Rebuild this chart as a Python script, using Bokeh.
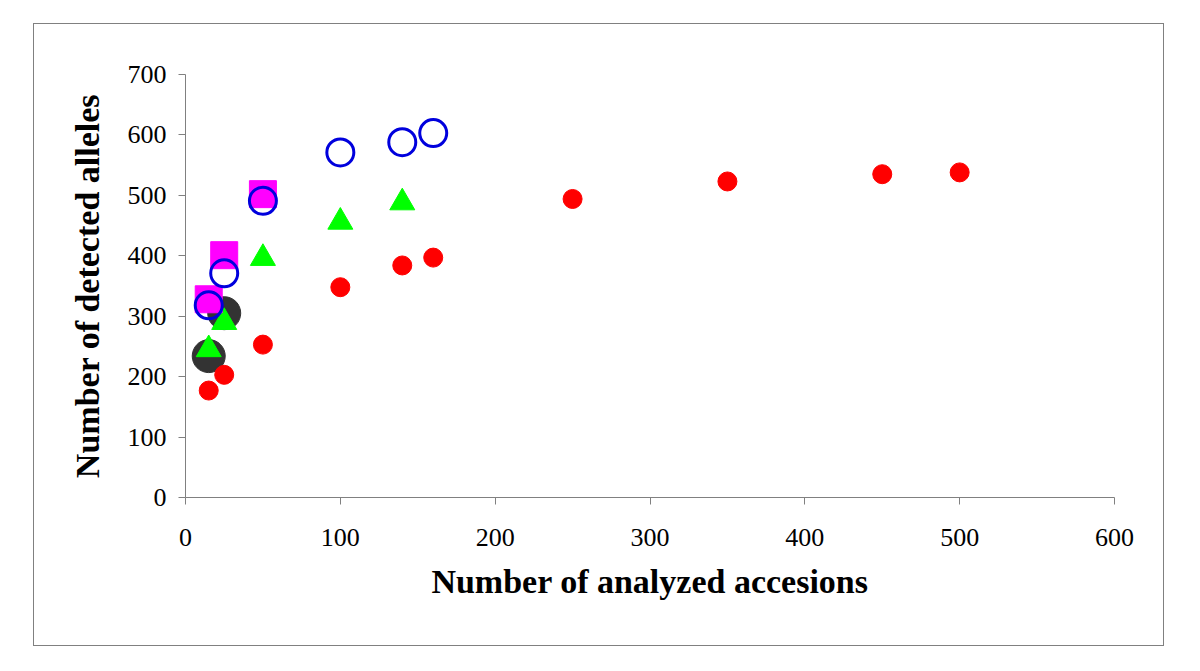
from bokeh.plotting import figure
from bokeh.models import FixedTicker, Range1d
from bokeh.embed import file_html
from bokeh.resources import INLINE

# ---- data ----
red_x = [15, 25, 50, 100, 140, 160, 250, 350, 450, 500]
red_y = [177, 203, 253, 348, 384, 397, 494, 523, 535, 538]

black_x = [15, 25]
black_y = [234, 305]

green_x = [15, 25, 50, 100, 140]
green_y = [245, 290, 396, 456, 488]

magenta_x = [15, 25, 50]
magenta_y = [328, 401, 502]

blue_x = [15, 25, 50, 100, 140, 160]
blue_y = [318, 371, 491, 571, 588, 603]

x_ticks = [0, 100, 200, 300, 400, 500, 600]
y_ticks = [0, 100, 200, 300, 400, 500, 600, 700]

x_label = "Number of analyzed accesions"
y_label = "Number of detected alleles"

FONT = "Liberation Serif"
GREY = "#808080"

p = figure(width=1131, height=623, output_backend="svg", toolbar_location=None,
           x_range=Range1d(0, 600), y_range=Range1d(0, 700),
           min_border_left=151, min_border_right=51,
           min_border_top=50, min_border_bottom=150)
p.margin = (23, 0, 0, 33)
p.styles = {"border": "1px solid " + GREY}

p.outline_line_color = None
p.xgrid.grid_line_color = None
p.ygrid.grid_line_color = None
p.background_fill_color = "white"
p.border_fill_color = "white"

for ax, ticks in ((p.xaxis[0], x_ticks), (p.yaxis[0], y_ticks)):
    ax.ticker = FixedTicker(ticks=ticks)
    ax.axis_line_color = GREY
    ax.major_tick_line_color = GREY
    ax.major_tick_out = 7
    ax.major_tick_in = 0
    ax.minor_tick_line_color = None
    ax.major_label_text_font = FONT
    ax.major_label_text_font_size = "26px"
    ax.major_label_text_color = "black"
    ax.axis_label_text_font = FONT
    ax.axis_label_text_font_size = "34px"
    ax.axis_label_text_font_style = "bold"
    ax.axis_label_text_color = "black"

p.xaxis.axis_label = x_label
p.yaxis.axis_label = y_label
p.xaxis.major_label_standoff = 24
p.yaxis.major_label_standoff = 12
p.xaxis.axis_label_standoff = 14
p.yaxis.axis_label_standoff = 19

p.scatter(black_x, black_y, marker="circle", size=33,
          fill_color="#333333", line_color="#333333")
p.scatter(red_x, red_y, marker="circle", size=19,
          fill_color="#ff0000", line_color="#ff0000")
p.scatter(green_x, green_y, marker="triangle", size=25,
          fill_color="#00ff00", line_color="#00ff00")
p.scatter(magenta_x, magenta_y, marker="square", size=27,
          fill_color="#ff00ff", line_color="#ff00ff")
p.scatter(blue_x, blue_y, marker="circle", size=27,
          fill_color=None, line_color="#0000dd", line_width=3)

open("out.html", "w").write(file_html(p, INLINE))
